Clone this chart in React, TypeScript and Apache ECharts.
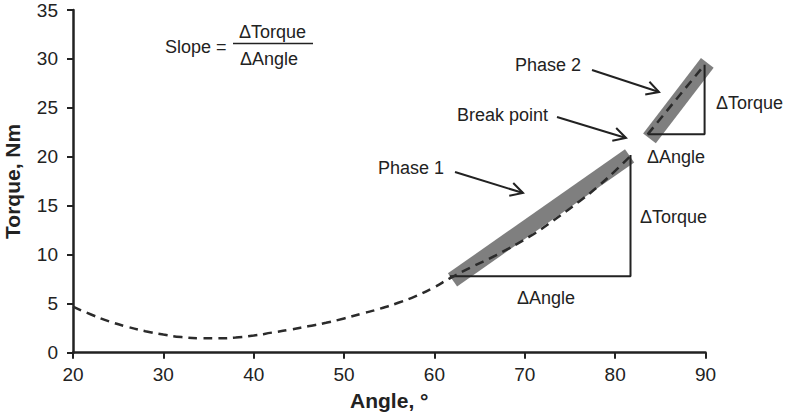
import React, { useEffect, useRef } from "react";
import * as echarts from "echarts";

// Dashed torque-angle curve (toe region + phase 1)
const curveAngles = [20, 22, 24, 26, 28, 30, 32, 34, 36, 38, 40, 42, 44, 46, 48, 50, 52, 54, 56, 58, 60, 61.7, 64, 66.9, 70.6, 73, 76.1, 78, 79.8, 81.7];
const curveTorque = [4.7, 3.9, 3.2, 2.65, 2.2, 1.85, 1.6, 1.48, 1.47, 1.55, 1.75, 2.05, 2.35, 2.7, 3.05, 3.5, 4.0, 4.5, 5.1, 5.8, 6.7, 7.6, 8.7, 10.0, 11.9, 13.4, 15.5, 16.9, 18.4, 20.1];
// Phase 2 dashed segment
const phase2Angles = [83.6, 86.7, 89.9];
const phase2Torque = [22.3, 25.8, 29.4];
// Fitted bands
const band1 = [[62.0, 7.44], [81.6, 20.1]];
const band2 = [[83.8, 21.9], [90.2, 29.6]];
// Slope triangles
const tri1 = [[61.7, 7.8], [81.7, 7.8], [81.7, 20.2]];
const tri2 = [[83.6, 22.3], [89.9, 22.3], [89.9, 29.4]];

const FONT = "'Liberation Sans', Arial, sans-serif";
const TXT = "#222";

function arrow(tail: number[], tip: number[]) {
  const a = Math.atan2(tip[1] - tail[1], tip[0] - tail[0]);
  const L = 14;
  const s = 0.5;
  return [
    { type: "line", shape: { x1: tail[0], y1: tail[1], x2: tip[0], y2: tip[1] }, style: { stroke: "#222", lineWidth: 2 } },
    {
      type: "polyline",
      shape: {
        points: [
          [tip[0] - L * Math.cos(a - s), tip[1] - L * Math.sin(a - s)],
          [tip[0], tip[1]],
          [tip[0] - L * Math.cos(a + s), tip[1] - L * Math.sin(a + s)],
        ],
      },
      style: { stroke: "#222", lineWidth: 2, fill: "none" },
    },
  ];
}

function label(text: string, x: number, y: number, align = "left") {
  return {
    type: "text",
    x,
    y,
    style: { text, fill: TXT, font: `18px ${FONT}`, textAlign: align, textVerticalAlign: "middle" },
  };
}

export default function App() {
  const ref = useRef<HTMLDivElement>(null);
  useEffect(() => {
    document.body.style.margin = "0";
    const chart = echarts.init(ref.current!, null, { renderer: "svg" });
    const lineBase = { type: "line", showSymbol: false, symbol: "none", silent: true, clip: false };
    chart.setOption({
      animation: false,
      backgroundColor: "#fff",
      grid: { left: 73, right: 81.5, top: 10, bottom: 63.3, containLabel: false, outerBoundsMode: "none" },
      xAxis: {
        type: "value",
        min: 20,
        max: 90,
        interval: 10,
        name: "Angle, °",
        nameLocation: "middle",
        nameGap: 37,
        nameTextStyle: { fontFamily: FONT, fontSize: 21, fontWeight: "bold", color: TXT },
        axisLine: { lineStyle: { color: "#222", width: 2.5 } },
        axisTick: { length: 6, lineStyle: { color: "#222", width: 2 } },
        axisLabel: { fontFamily: FONT, fontSize: 19, color: TXT, margin: 12 },
        splitLine: { show: false },
      },
      yAxis: {
        type: "value",
        min: 0,
        max: 35,
        interval: 5,
        name: "Torque, Nm",
        nameLocation: "middle",
        nameGap: 50,
        nameTextStyle: { fontFamily: FONT, fontSize: 21, fontWeight: "bold", color: TXT },
        axisLine: { show: true, lineStyle: { color: "#222", width: 2.5 } },
        axisTick: { show: true, length: 6, lineStyle: { color: "#222", width: 2 } },
        axisLabel: { fontFamily: FONT, fontSize: 19, color: TXT, margin: 15 },
        splitLine: { show: false },
      },
      series: [
        { ...lineBase, name: "band1", data: band1, z: 1, lineStyle: { color: "#7f7f7f", width: 16, cap: "butt" } },
        { ...lineBase, name: "band2", data: band2, z: 1, lineStyle: { color: "#7f7f7f", width: 16, cap: "butt" } },
        { ...lineBase, name: "tri1", data: tri1, z: 2, lineStyle: { color: "#222", width: 2 } },
        { ...lineBase, name: "tri2", data: tri2, z: 2, lineStyle: { color: "#222", width: 2 } },
        {
          ...lineBase,
          name: "curve",
          smooth: true,
          z: 3,
          data: curveAngles.map((a, i) => [a, curveTorque[i]]),
          lineStyle: { color: "#2b2b2b", width: 2.5, type: [9, 6] },
        },
        {
          ...lineBase,
          name: "phase2",
          z: 3,
          data: phase2Angles.map((a, i) => [a, phase2Torque[i]]),
          lineStyle: { color: "#2b2b2b", width: 2.5, type: [9, 6] },
        },
      ],
      graphic: [
        label("Slope =", 165, 47),
        label("ΔTorque", 272.5, 31.5, "center"),
        { type: "line", shape: { x1: 233, y1: 43.5, x2: 313, y2: 43.5 }, style: { stroke: "#222", lineWidth: 1.5 } },
        label("ΔAngle", 269, 59, "center"),
        label("Phase 1", 378, 168),
        label("Break point", 457, 115),
        label("Phase 2", 515, 65),
        label("ΔTorque", 640, 217),
        label("ΔAngle", 517, 298),
        label("ΔTorque", 716, 103),
        label("ΔAngle", 647, 157),
        ...arrow([455, 172], [523, 193]),
        ...arrow([557, 117], [626, 138]),
        ...arrow([592, 70], [659, 92]),
      ],
    });
    return () => chart.dispose();
  }, []);
  return <div ref={ref} style={{ width: 787, height: 416 }} />;
}
